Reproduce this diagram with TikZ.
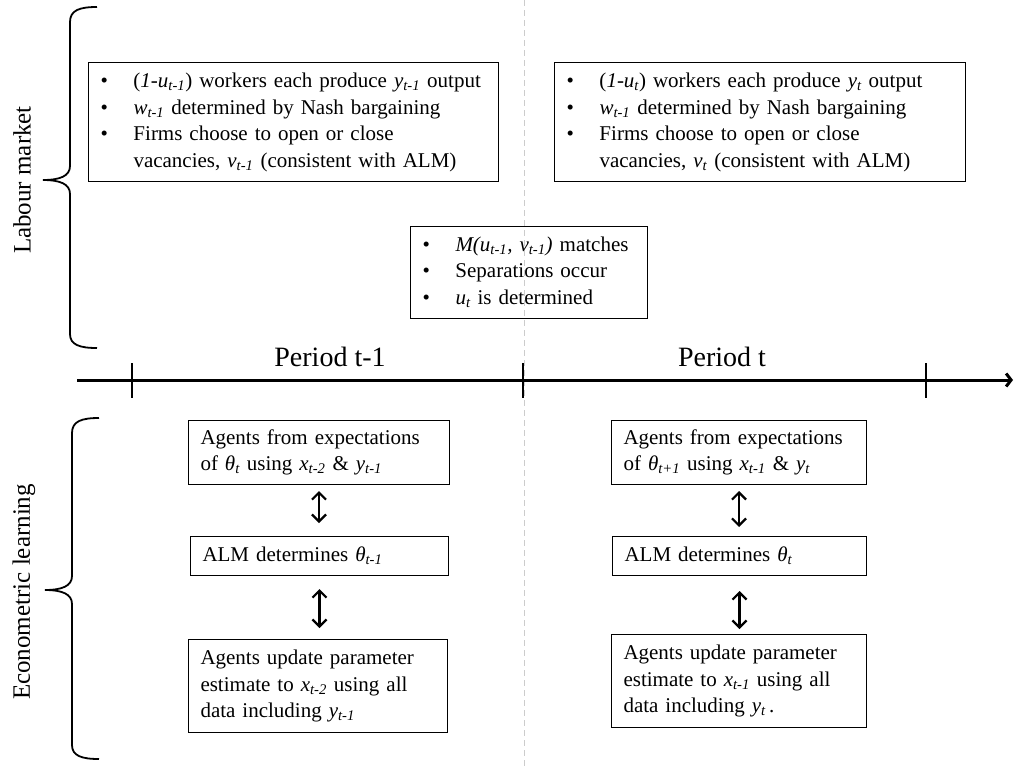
\documentclass[tikz,border=0pt]{standalone}
\usepackage{fontspec}
\setmainfont{Liberation Serif}
\usetikzlibrary{arrows.meta}
\newcommand\sbi[1]{\textsubscript{\itshape #1}}
\newcommand\iv[1]{\textit{#1}}
\begin{document}
\begin{tikzpicture}[x=1pt,y=-1pt,
  txt/.style={font=\fontsize{21}{26.5}\selectfont},
  box/.style={draw, line width=1pt, inner xsep=12pt, inner ysep=0pt, align=left, anchor=north west, txt},
  dbl/.style={line width=2.2pt, {Straight Barb[length=7pt,width=14pt]}-{Straight Barb[length=7pt,width=14pt]}},
  brc/.style={line width=1.8pt},
  tick/.style={line width=2.4pt},
  lbl/.style={font=\fontsize{25}{28}\selectfont, rotate=90},
  per/.style={font=\fontsize{28}{30}\selectfont}
]
\useasboundingbox (0,0) rectangle (1014,766);
% dashed separator
\coordinate (dtop) at (524,0);
\coordinate (dbot) at (524,766);
\draw[gray!40, line width=1pt, dash pattern=on 6pt off 4pt] (dtop) -- (dbot);

% braces
\draw[brc] (97,7) .. controls (80,7) and (70,10) .. (70,22) -- (70,166) .. controls (70,176) and (60,180) .. (43,180) .. controls (60,180) and (70,184) .. (70,194) -- (70,334) .. controls (70,345) and (80,348) .. (97,348);
\draw[brc] (99,418) .. controls (82,418) and (72,421) .. (72,433) -- (72,576) .. controls (72,586) and (62,590) .. (45,590) .. controls (62,590) and (72,594) .. (72,604) -- (72,745) .. controls (72,756) and (82,759) .. (99,759);
\node[lbl] (lm) at (22,180) {Labour market};
\node[lbl] (el) at (24,592) {Econometric learning};

% timeline
\coordinate (ts) at (77,380);
\coordinate (te) at (1013,380);
\draw[line width=3pt, -{Straight Barb[length=5pt,width=13pt]}] (ts) -- (te);
\coordinate (k1a) at (132,363); \coordinate (k1b) at (132,398);
\coordinate (k2a) at (523,363); \coordinate (k2b) at (523,398);
\coordinate (k3a) at (926,363); \coordinate (k3b) at (926,398);
\draw[tick] (k1a) -- (k1b);
\draw[tick] (k2a) -- (k2b);
\draw[tick] (k3a) -- (k3b);
\node[per] (p1) at (330,357) {Period t-1};
\node[per] (p2) at (722,357) {Period t};

% top boxes
\node[box, minimum width=410pt, minimum height=119pt, text width=386pt] (TL) at (88,62) {%
\begin{tabular}{@{}p{33pt}@{}l@{}}
\textbullet & (\iv{1}-\iv{u}\sbi{t-1}) workers each produce \iv{y}\sbi{t-1} output\\
\textbullet & \iv{w}\sbi{t-1} determined by Nash bargaining\\
\textbullet & Firms choose to open or close\\
 & vacancies, \iv{v}\sbi{t-1} (consistent with ALM)
\end{tabular}};
\node[box, minimum width=411pt, minimum height=119pt, text width=387pt] (TR) at (554,62) {%
\begin{tabular}{@{}p{33pt}@{}l@{}}
\textbullet & (\iv{1}-\iv{u}\sbi{t}) workers each produce \iv{y}\sbi{t} output\\
\textbullet & \iv{w}\sbi{t-1} determined by Nash bargaining\\
\textbullet & Firms choose to open or close\\
 & vacancies, \iv{v}\sbi{t} (consistent with ALM)
\end{tabular}};
\node[box, minimum width=237pt, minimum height=92pt, text width=213pt] (TM) at (410,226) {%
\begin{tabular}{@{}p{33pt}@{}l@{}}
\textbullet & \iv{M(u}\sbi{t-1}\iv{, v}\sbi{t-1}\iv{)} matches\\
\textbullet & Separations occur\\
\textbullet & \iv{u}\sbi{t} is determined
\end{tabular}};

% bottom left column
\node[box, minimum width=261pt, minimum height=64pt, text width=237pt] (A1) at (188,420) {Agents from expectations\\ of \iv{θ}\sbi{t} using \iv{x}\sbi{t-2} \& \iv{y}\sbi{t-1}};
\node[box, minimum width=258pt, minimum height=39pt, text width=234pt] (B1) at (190,536) {ALM determines \iv{θ}\sbi{t-1}};
\node[box, minimum width=259pt, minimum height=93pt, text width=235pt] (C1) at (188,639) {Agents update parameter\\ estimate to \iv{x}\sbi{t-2} using all\\ data including \iv{y}\sbi{t-1}};
% bottom right column
\node[box, minimum width=255pt, minimum height=64pt, text width=231pt] (A2) at (611,420) {Agents from expectations\\ of \iv{θ}\sbi{t+1} using \iv{x}\sbi{t-1} \& \iv{y}\sbi{t}};
\node[box, minimum width=254pt, minimum height=39pt, text width=230pt] (B2) at (612,536) {ALM determines \iv{θ}\sbi{t}};
\node[box, minimum width=255pt, minimum height=93pt, text width=231pt] (C2) at (611,634) {Agents update parameter\\ estimate to \iv{x}\sbi{t-1} using all\\ data including \iv{y}\sbi{t}\,.};

% arrows
\draw[dbl, shorten <=6pt, shorten >=13pt] (A1.south) -- (A1.south |- B1.north);
\draw[dbl, shorten <=13pt, shorten >=11pt] (B1.south) -- (B1.south |- C1.north);
\draw[dbl, shorten <=6pt, shorten >=9pt] (A2.south) -- (A2.south |- B2.north);
\draw[dbl, shorten <=15pt, shorten >=5pt] (B2.south) -- (B2.south |- C2.north);
\end{tikzpicture}
\end{document}
